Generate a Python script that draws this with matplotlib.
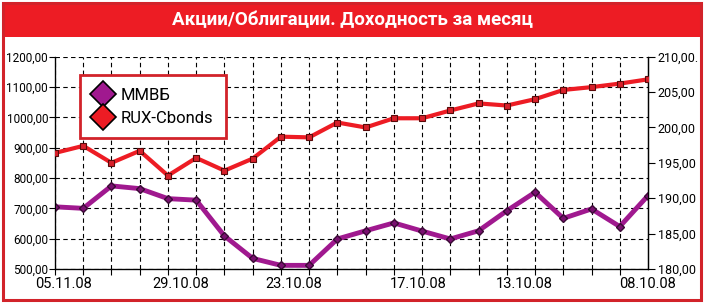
import matplotlib
matplotlib.use('Agg')
import matplotlib.pyplot as plt
from matplotlib.patches import Rectangle
from matplotlib.lines import Line2D
from matplotlib.ticker import FixedLocator, FuncFormatter

plt.rcParams['font.family'] = ['Roboto', 'DejaVu Sans']

# data, index 0 = 05.11.08 ... index 21 = 08.10.08
mmvb = [705, 700, 774, 765, 732, 727, 609, 535, 512, 512, 599, 626, 652,
        625, 599, 626, 692, 753, 667, 698, 640, 742]
rux_cbonds = [196.4, 197.4, 195.0, 196.7, 193.2, 195.7, 193.9, 195.6, 198.7,
              198.6, 200.7, 200.0, 201.3, 201.3, 202.4, 203.4, 203.1, 204.0,
              205.3, 205.7, 206.2, 206.8]
date_labels = ['05.11.08', '29.10.08', '23.10.08', '17.10.08', '13.10.08', '08.10.08']
date_pos = [0.3, 4.45, 8.45, 12.85, 16.6, 21.0]
left_ticks = [500, 600, 700, 800, 900, 1000, 1100, 1200]
right_ticks = [180, 185, 190, 195, 200, 205, 210]

RED = '#ed1c24'
PURPLE = '#a0198f'

W, H = 704, 303
fig = plt.figure(figsize=(W / 100, H / 100), dpi=100)
fig.patch.set_facecolor('white')

# title bar and frame
fig.patches.append(Rectangle((2 / W, 1 - 37 / H), 700 / W, 35 / H, transform=fig.transFigure,
                             facecolor=RED, edgecolor='none', zorder=0))
fig.patches.append(Rectangle((3 / W, 3 / H), 698 / W, 1 - 6 / H, transform=fig.transFigure,
                             facecolor='none', edgecolor='#d2232a', linewidth=2.2, zorder=0))
fig.text(352 / W, 1 - 20 / H, 'Акции/Облигации. Доходность за месяц', color='white',
         fontsize=13.5, fontweight='bold', ha='center', va='center')

x = list(range(len(mmvb)))
ax = fig.add_axes([55 / W, (H - 269) / H, (648 - 55) / W, (269 - 56.7) / H])
ax.set_xlim(0, len(mmvb) - 1)
ax.set_ylim(500, 1200)
ax.plot(x, mmvb, color=PURPLE, linewidth=3.5, marker='D', markersize=4,
        markerfacecolor='#7a1070', markeredgecolor='#3a0a35', zorder=3)

ax.yaxis.set_major_locator(FixedLocator(left_ticks))
ax.yaxis.set_major_formatter(FuncFormatter(lambda v, p: '{:.2f}'.format(v).replace('.', ',')))
ax.xaxis.set_major_locator(FixedLocator(date_pos))
ax.set_xticklabels(date_labels, fontsize=10.5)
ax.xaxis.set_minor_locator(FixedLocator(x))
ax.tick_params(axis='x', which='major', length=0, pad=6)
ax.tick_params(axis='x', which='minor', length=4, width=0.8, direction='out')
ax.tick_params(axis='y', length=4, width=0.8, labelsize=8.5, pad=1)
ax.grid(which='minor', axis='x', color='black', linestyle=(0, (4, 3)), linewidth=0.8)
ax.grid(which='major', axis='y', color='black', linestyle=(0, (4, 3)), linewidth=0.8)
ax.spines['top'].set_visible(False)
for s in ['left', 'bottom', 'right']:
    ax.spines[s].set_linewidth(0.9)

ax2 = ax.twinx()
ax2.set_ylim(180, 210)
ax2.plot(x, rux_cbonds, color=RED, linewidth=3, marker='s', markersize=5,
         markerfacecolor='#d8202a', markeredgecolor='#5a0a0a', markeredgewidth=0.8, zorder=3)
ax2.yaxis.set_major_locator(FixedLocator(right_ticks))
right_labels = ['{:.2f}'.format(v).replace('.', ',') for v in right_ticks]
right_labels[-1] = right_labels[-1] + '.'
ax2.set_yticklabels(right_labels)
ax2.tick_params(axis='y', length=5, width=0.8, labelsize=9, pad=2)
ax2.spines['top'].set_visible(False)
ax2.spines['right'].set_linewidth(0.9)

handles = [Line2D([], [], linestyle='none', marker='D', markersize=13, markerfacecolor='#a0198f',
                  markeredgecolor='black', markeredgewidth=1.2),
           Line2D([], [], linestyle='none', marker='D', markersize=13, markerfacecolor=RED,
                  markeredgecolor='black', markeredgewidth=1.2)]
leg = ax2.legend(handles, ['ММВБ', 'RUX-Cbonds'], loc='upper left',
                 bbox_to_anchor=((80 - 55) / (648 - 55), (269 - 75) / (269 - 56.7)),
                 borderaxespad=0, fontsize=12, frameon=True, fancybox=False,
                 handletextpad=0.5, borderpad=0.75, labelspacing=0.5, handlelength=1.2)
leg.get_frame().set_edgecolor('#d2232a')
leg.get_frame().set_linewidth(2)
leg.get_frame().set_facecolor('white')
leg.get_frame().set_alpha(1)
leg.set_zorder(5)

fig.savefig('out.png', dpi=100)
